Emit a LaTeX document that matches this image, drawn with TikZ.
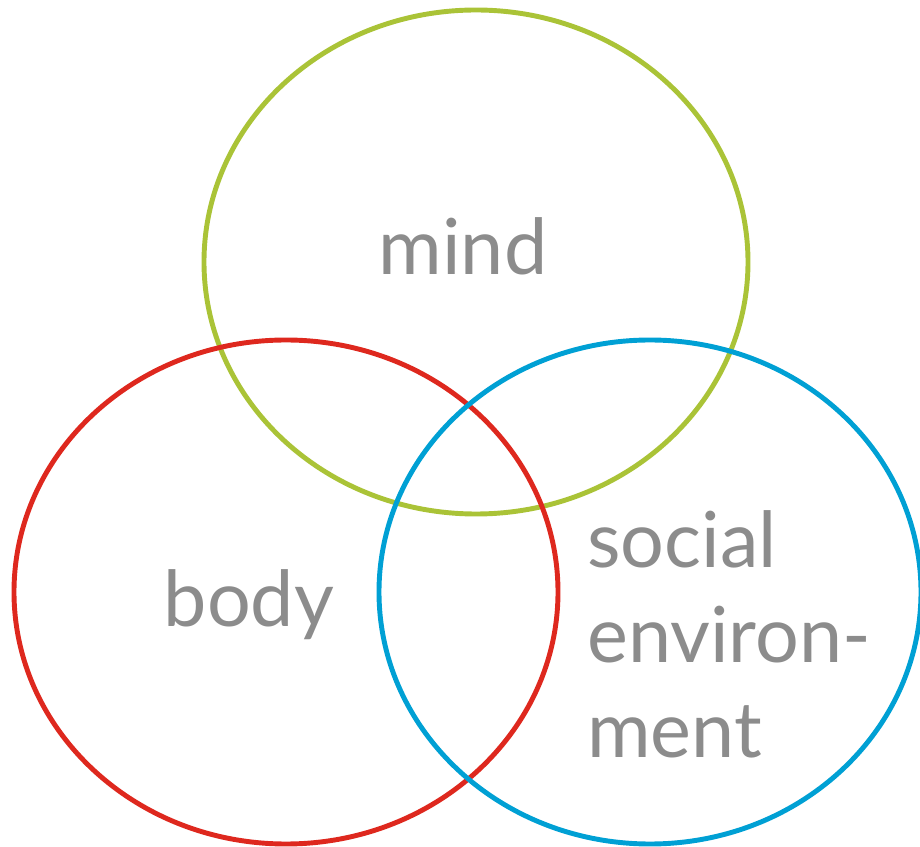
\documentclass[tikz,border=0pt]{standalone}
\usepackage{fontspec}
\setmainfont{Lato}
\usepackage{tikz}
\usetikzlibrary{calc, shapes}

\definecolor{mindgreen}{RGB}{170,195,55}
\definecolor{bodyred}{RGB}{222,40,30}
\definecolor{socialblue}{RGB}{0,160,212}
\definecolor{labelgrey}{RGB}{140,140,140}

\begin{document}
\begin{tikzpicture}[x=0.02cm, y=-0.02cm]
\tikzstyle{ring}=[line width=2.8pt]
\tikzstyle{word}=[text=labelgrey, font=\fontsize{44}{54}\selectfont, inner sep=0pt]
\useasboundingbox (0,0) rectangle (920,847);
\draw[ring, mindgreen] (476,262) ellipse [x radius=272, y radius=252];
\draw[ring, bodyred] (286,592) ellipse [x radius=272, y radius=252];
\draw[ring, socialblue] (650,592) ellipse [x radius=271, y radius=252];
\node[word, anchor=base] (M_0) at (463,275) {mind};
\node[word, anchor=base] (B_0) at (249,627) {body};
\node[word, anchor=base west, align=left] (S_0) at (587,757) {social\\environ-\\ment};
\end{tikzpicture}
\end{document}
